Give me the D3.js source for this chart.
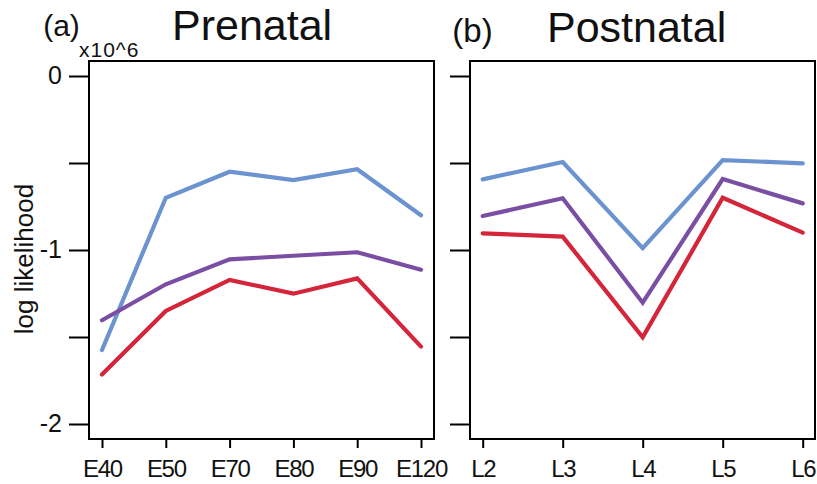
<!DOCTYPE html>
<html><head><meta charset="utf-8">
<script src="https://cdn.jsdelivr.net/npm/d3@7"></script>
<style>
body{margin:0;background:#fff;}
text{font-family:"Liberation Sans",Arial,sans-serif;fill:#111;}
</style></head>
<body><svg id="c" width="817" height="484"></svg>
<script>
const prenatalCats = ["E40","E50","E70","E80","E90","E120"];
const postnatalCats = ["L2","L3","L4","L5","L6"];
const yTicks = [0,-0.5,-1,-1.5,-2];
const seriesNames = ["blue","purple","red"];
const seriesColors = ["#6b93d0","#7a4fa3","#d4253a"];
const prenatalBlue   = [-1.575,-0.70,-0.55,-0.598,-0.536,-0.80];
const prenatalPurple = [-1.404,-1.197,-1.054,-1.033,-1.013,-1.113];
const prenatalRed    = [-1.716,-1.35,-1.172,-1.251,-1.163,-1.555];
const postnatalBlue   = [-0.594,-0.494,-0.99,-0.483,-0.502];
const postnatalPurple = [-0.805,-0.703,-1.303,-0.592,-0.732];
const postnatalRed    = [-0.904,-0.923,-1.502,-0.70,-0.90];

const svg = d3.select("#c");
const y = d3.scaleLinear().domain([0,-2]).range([76,424]);
const boxTop = 61, boxBottom = 439;

function panel(cfg){
  const g = svg.append("g");
  const x = d3.scalePoint().domain(cfg.cats).range(cfg.xr);
  g.append("rect").attr("x",cfg.left).attr("y",boxTop)
    .attr("width",cfg.right-cfg.left).attr("height",boxBottom-boxTop)
    .attr("fill","none").attr("stroke","#000").attr("stroke-width",2);
  const ya = g.append("g").attr("transform",`translate(${cfg.left},0)`)
    .call(d3.axisLeft(y).tickValues(yTicks).tickSize(20).tickPadding(7)
      .tickFormat(d => (cfg.labels && Number.isInteger(d)) ? (d<0?"-"+(-d):String(d)) : ""));
  ya.select(".domain").remove();
  ya.selectAll(".tick line").attr("stroke","#000").attr("stroke-width",2);
  ya.selectAll(".tick text").attr("font-size",25).attr("dy","0.3em")
    .attr("font-family","Liberation Sans, Arial, sans-serif").attr("fill","#111");
  const xa = g.append("g").attr("transform",`translate(0,${boxBottom})`)
    .call(d3.axisBottom(x).tickSize(9).tickPadding(0));
  xa.select(".domain").remove();
  xa.selectAll(".tick line").attr("stroke","#000").attr("stroke-width",2);
  xa.selectAll(".tick text").attr("font-size",24).attr("y",38).attr("dy",0)
    .attr("letter-spacing",-1.3)
    .attr("font-family","Liberation Sans, Arial, sans-serif").attr("fill","#111");
  const line = d3.line().x((d,i)=>x(cfg.cats[i])).y(d=>y(d));
  cfg.series.forEach((s,k)=>{
    g.append("path").datum(s).attr("d",line).attr("fill","none")
      .attr("stroke",seriesColors[k]).attr("stroke-width",4.2)
      .attr("stroke-linejoin","miter").attr("stroke-linecap","round");
  });
}

panel({cats:prenatalCats,xr:[102,421],left:89,right:434,labels:true,
  series:[prenatalBlue,prenatalPurple,prenatalRed]});
panel({cats:postnatalCats,xr:[482.7,802.7],left:470,right:815,labels:false,
  series:[postnatalBlue,postnatalPurple,postnatalRed]});

svg.append("text").attr("x",172).attr("y",40).attr("font-size",43).text("Prenatal");
svg.append("text").attr("x",547).attr("y",42).attr("font-size",43).text("Postnatal");
svg.append("text").attr("x",61.5).attr("y",36).attr("text-anchor","middle").attr("font-size",30).attr("fill","#222").text("(a)");
svg.append("text").attr("x",472.5).attr("y",42).attr("text-anchor","middle").attr("font-size",33).attr("fill","#222").text("(b)");
svg.append("text").attr("x",79).attr("y",57).attr("font-size",21).attr("letter-spacing",1).text("x10^6");
svg.append("text").attr("transform","translate(33,259) rotate(-90)")
  .attr("text-anchor","middle").attr("font-size",26).text("log likelihood");
</script></body></html>
